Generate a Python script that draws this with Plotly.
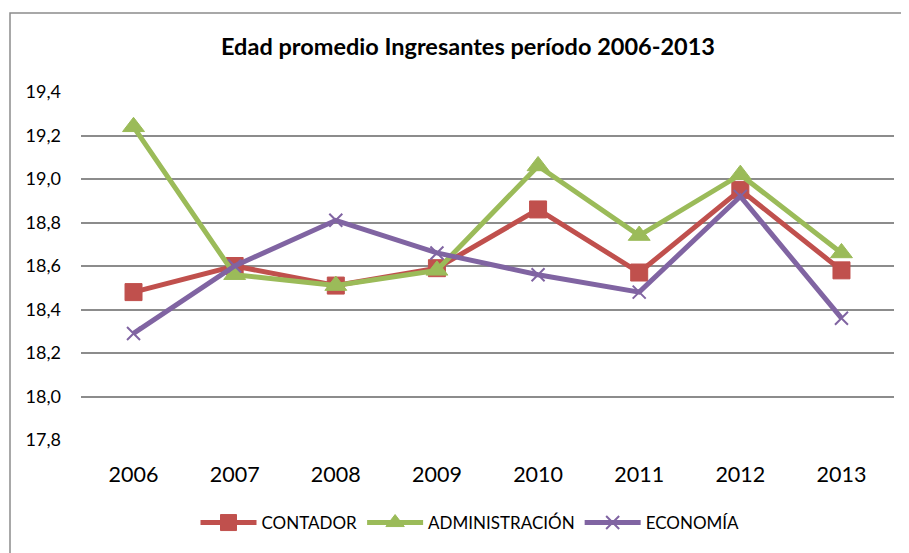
import plotly.graph_objects as go

years = ["2006", "2007", "2008", "2009", "2010", "2011", "2012", "2013"]
contador = [18.48, 18.60, 18.51, 18.59, 18.86, 18.57, 18.95, 18.58]
administracion = [19.24, 18.56, 18.51, 18.58, 19.06, 18.74, 19.02, 18.66]
economia = [18.29, 18.60, 18.81, 18.66, 18.56, 18.48, 18.92, 18.36]
y_ticks = [17.8, 18.0, 18.2, 18.4, 18.6, 18.8, 19.0, 19.2, 19.4]

RED = "#C0504D"
GREEN = "#9BBB59"
PURPLE = "#8064A2"
FONT = "Lato"

fig = go.Figure()
fig.add_trace(go.Scatter(
    x=years, y=contador, name="CONTADOR", mode="lines+markers",
    line=dict(color=RED, width=5),
    marker=dict(symbol="square", size=17, color=RED, line=dict(color=RED, width=1)),
))
fig.add_trace(go.Scatter(
    x=years, y=administracion, name="ADMINISTRACIÓN", mode="lines+markers",
    line=dict(color=GREEN, width=5),
    marker=dict(symbol="triangle-up", size=19, color=GREEN, line=dict(color=GREEN, width=1)),
))
fig.add_trace(go.Scatter(
    x=years, y=economia, name="ECONOMÍA", mode="lines+markers",
    line=dict(color=PURPLE, width=5),
    marker=dict(symbol="x-thin-open", size=13, color=PURPLE, line=dict(color=PURPLE, width=2)),
))

# page body has an 8px margin; positions below are in screen pixels
OFF = 8
W, H = 909, 553
PL, PR, PT, PB = 81, 894, 92, 440  # plot area on screen
L, T = PL - OFF, PT - OFF
pw, ph = PR - PL, PB - PT
R, B = W - L - pw, H - T - ph


def px(x):
    return (x - PL) / pw


def py(y):
    return (PB - y) / ph


fig.update_layout(
    width=W, height=H,
    margin=dict(l=L, r=R, t=T, b=B, autoexpand=False),
    paper_bgcolor="white", plot_bgcolor="white",
    separators=",.",
    font=dict(family=FONT, color="black"),
    title=dict(
        text="<b>Edad promedio Ingresantes período 2006-2013</b>",
        font=dict(family=FONT, size=23.5, color="black"),
        x=(468 - OFF) / W, xanchor="center", xref="container",
        y=1 - (47 - OFF) / H, yanchor="middle", yref="container",
    ),
    xaxis=dict(
        type="category", showgrid=False, zeroline=False,
        showline=False, ticks="", automargin=False,
        tickfont=dict(family=FONT, size=21.5, color="black"),
        ticklabelstandoff=19,
    ),
    yaxis=dict(
        range=[17.8, 19.4], tickvals=y_ticks, tickformat=".1f",
        showgrid=True, gridcolor="#8C8C8C", gridwidth=1.5,
        zeroline=False, showline=False, ticks="", automargin=False,
        tickfont=dict(family=FONT, size=18, color="black"),
        ticklabelstandoff=19,
    ),
    legend=dict(
        orientation="h", x=px(470), xanchor="center",
        y=py(523), yanchor="middle",
        font=dict(family=FONT, size=17, color="black"),
        bgcolor="rgba(0,0,0,0)", itemwidth=56,
    ),
    showlegend=True,
)

fig.add_shape(
    type="rect", xref="paper", yref="paper",
    x0=px(10), x1=px(W + 20),
    y0=py(H + 20), y1=py(13),
    line=dict(color="#8C8C8C", width=1.5), fillcolor="rgba(0,0,0,0)",
    layer="below",
)

fig.write_html("out.html")
